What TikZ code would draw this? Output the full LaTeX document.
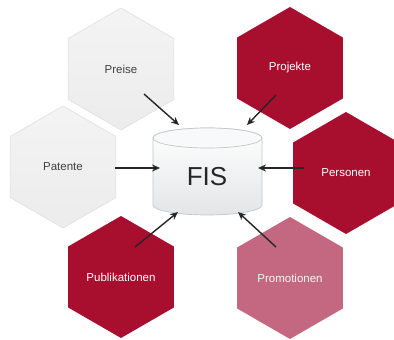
\documentclass[tikz,border=0pt]{standalone}
\usepackage{fontspec}
\setmainfont{Liberation Sans}
\usetikzlibrary{shapes.geometric,arrows.meta}
\definecolor{fisred}{RGB}{168,14,46}
\definecolor{fispink}{RGB}{196,104,130}
\definecolor{hexgray}{RGB}{236,236,237}
\definecolor{cylfill}{RGB}{238,240,242}
\begin{document}
\begin{tikzpicture}[x=1pt,y=1pt,
  hexbox/.style={regular polygon, regular polygon sides=6, shape border rotate=30,
    minimum size=122pt, inner sep=0pt, font=\fontsize{11.5}{13}\selectfont},
  lighthex/.style={hexbox, top color=hexgray!60, bottom color=hexgray, draw=gray!25, line width=0.6pt, text=black!75},
  redhex/.style={hexbox, fill=fisred, text=white},
  pinkhex/.style={hexbox, fill=fispink, text=white!92!fispink},
  conn/.style={line width=1.4pt, -{Stealth[length=8pt,width=7pt]}, black!85}
]
\useasboundingbox (0,0) rectangle (394,340);
\fill[white] (0,0) rectangle (394,340);

% hexagons
\node[lighthex] (preise) at (121,271) {Preise};
\node[lighthex] (patente) at (63,173) {Patente};
\node[redhex] (projekte) at (290,272) {Projekte};
\node[redhex] (personen) at (346,167) {Personen};
\node[redhex] (publ) at (121,63) {Publikationen};
\node[pinkhex] (promo) at (290,62) {Promotionen};

% cylinder
\path[top color=white, bottom color=cylfill!90!gray, draw=gray!45, line width=0.7pt]
  (153,202) -- (153,135) arc[start angle=180, end angle=360, x radius=54.5, y radius=10]
  -- (262,202) arc[start angle=0, end angle=180, x radius=54.5, y radius=10] -- cycle;
\draw[gray!45, line width=0.7pt, fill=white!60!cylfill]
  (207.5,202) ellipse[x radius=54.5, y radius=10];
\node[font=\fontsize{26}{28}\selectfont, text=black!85] (fis) at (207,163) {FIS};

% arrow endpoints
\coordinate (preiseA) at (144,246);
\coordinate (preiseB) at (179,215);
\coordinate (patenteA) at (115,172);
\coordinate (patenteB) at (160,172);
\coordinate (projekteA) at (276,245);
\coordinate (projekteB) at (247,215);
\coordinate (personenA) at (304,172);
\coordinate (personenB) at (258,172);
\coordinate (publA) at (135,93);
\coordinate (publB) at (178,128);
\coordinate (promoA) at (276,93);
\coordinate (promoB) at (238,128);

\draw[conn] (preiseA) -- (preiseB);
\draw[conn] (patenteA) -- (patenteB);
\draw[conn] (projekteA) -- (projekteB);
\draw[conn] (personenA) -- (personenB);
\draw[conn] (publA) -- (publB);
\draw[conn] (promoA) -- (promoB);
\end{tikzpicture}
\end{document}
